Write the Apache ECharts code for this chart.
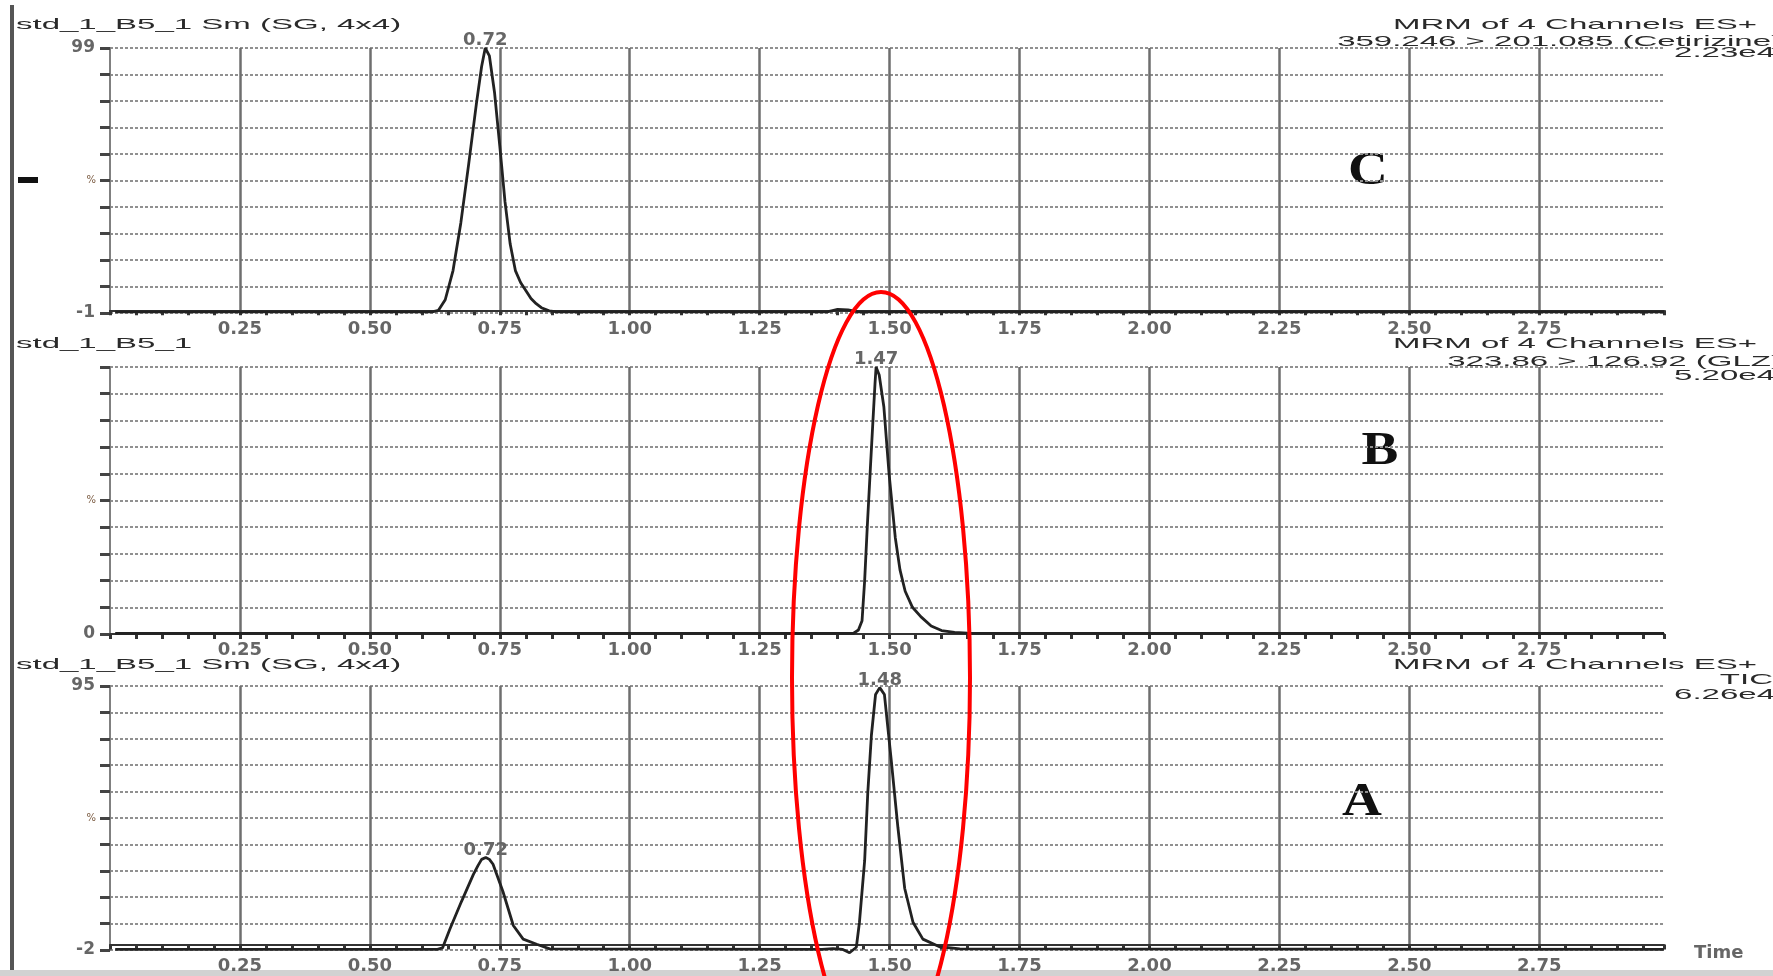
<!DOCTYPE html>
<html>
<head>
<meta charset="utf-8">
<script src="https://cdn.jsdelivr.net/npm/echarts@6/dist/echarts.min.js"></script>
<style>
  html, body { margin: 0; padding: 0; background: #fff; }
  #chart { width: 1773px; height: 976px; }
</style>
</head>
<body>
<div id="chart"></div>
<script>
// retention time (min) and relative intensity (%)
const timeC = [0.01, 0.62, 0.632, 0.645, 0.66, 0.675, 0.69, 0.705, 0.715, 0.722, 0.73, 0.74, 0.75, 0.76, 0.77, 0.78, 0.79, 0.80, 0.81, 0.82, 0.83, 0.845, 0.86, 1.38, 1.40, 1.42, 1.44, 2.99];
const intensityC = [-0.6, -0.6, 0, 4, 15, 33, 55, 78, 92, 99, 96, 82, 62, 41, 25, 15, 10.5, 7.5, 4.5, 2.5, 1, -0.2, -0.6, -0.6, 0.4, 0.2, -0.6, -0.6];

const timeB = [0.01, 1.43, 1.44, 1.447, 1.452, 1.457, 1.463, 1.468, 1.472, 1.474, 1.48, 1.489, 1.499, 1.511, 1.52, 1.53, 1.544, 1.56, 1.58, 1.60, 1.625, 1.65, 1.70, 2.99];
const intensityB = [0.2, 0.2, 1.5, 5, 20, 40, 62, 80, 94, 100, 97, 85, 60, 36, 24, 16, 10, 6.5, 3, 1.3, 0.6, 0.3, 0.2, 0.2];

const timeA = [0.01, 0.63, 0.64, 0.654, 0.676, 0.699, 0.708, 0.715, 0.723, 0.73, 0.737, 0.756, 0.776, 0.795, 0.821, 0.846, 1.37, 1.391, 1.41, 1.423, 1.436, 1.442, 1.452, 1.458, 1.465, 1.473, 1.481, 1.49, 1.503, 1.516, 1.529, 1.545, 1.564, 1.596, 1.635, 2.99];
const intensityA = [-1.8, -1.8, -1.2, 5.7, 15.7, 25.7, 29, 31.3, 32, 31.3, 29.5, 19.5, 7, 2, 0.1, -1.6, -1.8, -1.5, -1.8, -3, -1, 8.2, 30.8, 55.7, 76.9, 91.9, 94.4, 91.9, 68, 43, 20.7, 8.2, 2, -0.8, -1.6, -1.8];

// labelled peak apexes
const peaksC = [0.722];
const peaksB = [1.474];
const peaksA = [0.723, 1.481];

// y axis extent and the values printed on it
const yRangeC = [-1, 99];
const yRangeB = [0, 100];
const yRangeA = [-2, 95];
const yLabelsC = [-1, 99];
const yLabelsB = [0];
const yLabelsA = [-2, 95];

const timeRange = [0, 2.99];
const timeStep = 0.25;

const leftTitles = ['std_1_B5_1 Sm (SG, 4x4)', 'std_1_B5_1', 'std_1_B5_1 Sm (SG, 4x4)'];
const rightTitles = [
  ['MRM of 4 Channels ES+', '359.246 > 201.085 (Cetirizine)', '2.23e4'],
  ['MRM of 4 Channels ES+', '323.86 > 126.92 (GLZ)', '5.20e4'],
  ['MRM of 4 Channels ES+', 'TIC', '6.26e4']
];
const panelLetters = ['C', 'B', 'A'];

const panels = [
  { times: timeC, values: intensityC, peaks: peaksC, range: yRangeC, labels: yLabelsC, top: 48, height: 265 },
  { times: timeB, values: intensityB, peaks: peaksB, range: yRangeB, labels: yLabelsB, top: 367, height: 267 },
  { times: timeA, values: intensityA, peaks: peaksA, range: yRangeA, labels: yLabelsA, top: 686, height: 264 }
];

const labelFont = 'DejaVu Sans';
const labelColor = '#666';

let grid = [], xAxis = [], yAxis = [], series = [];

panels.forEach((p, i) => {
  grid.push({ left: 110, right: 109, top: p.top, height: p.height });

  xAxis.push({
    type: 'value',
    gridIndex: i,
    min: timeRange[0],
    max: timeRange[1],
    interval: timeStep,
    name: i === 2 ? 'Time' : '',
    nameLocation: 'end',
    nameGap: 30,
    nameTextStyle: { fontFamily: labelFont, fontSize: 18, fontWeight: 'bold', color: labelColor, align: 'left', verticalAlign: 'top' },
    axisLine: { lineStyle: { color: '#333', width: 2 } },
    axisTick: { length: 5, lineStyle: { color: '#333', width: 3 } },
    minorTick: { show: true, splitNumber: 5, length: 5, lineStyle: { color: '#333', width: 3 } },
    axisLabel: {
      fontFamily: labelFont, fontSize: 18, fontWeight: 'bold', color: labelColor, margin: 7,
      showMinLabel: false, showMaxLabel: false,
      formatter: v => v.toFixed(2)
    },
    splitLine: { show: true, showMinLine: false, showMaxLine: false, lineStyle: { color: '#6e6e6e', width: 2.5 } }
  });

  // intensity axis: only the end values are printed
  yAxis.push({
    type: 'value',
    gridIndex: i,
    position: 'left',
    min: p.range[0],
    max: p.range[1],
    interval: p.range[1] - p.range[0],
    axisLine: { show: false },
    axisTick: { show: false },
    splitLine: { show: false },
    axisLabel: {
      fontFamily: labelFont, fontSize: 17, fontWeight: 'bold', color: labelColor, margin: 15,
      formatter: v => p.labels.indexOf(v) >= 0 ? String(v) : ''
    }
  });
  // tenths grid of the panel
  yAxis.push({
    type: 'value',
    gridIndex: i,
    position: 'left',
    min: 0,
    max: 10,
    interval: 1,
    axisLine: { show: true, lineStyle: { color: '#808080', width: 2 } },
    axisTick: { show: true, length: 10, lineStyle: { color: '#444', width: 3 } },
    splitLine: { show: true, lineStyle: { color: '#909090', width: 2, type: [3, 2] } },
    axisLabel: {
      fontFamily: labelFont, fontSize: 10, color: '#7a5a40', margin: 14,
      formatter: v => v === 5 ? '%' : ''
    }
  });

  series.push({
    type: 'line',
    xAxisIndex: i,
    yAxisIndex: i * 2,
    data: p.times.map((t, k) => [t, p.values[k]]),
    showSymbol: false,
    symbol: 'none',
    smooth: false,
    clip: false,
    silent: true,
    lineStyle: { color: '#222', width: 2.8 },
    markPoint: {
      symbol: 'circle',
      symbolSize: 1,
      itemStyle: { color: 'rgba(0,0,0,0)' },
      label: { show: true, position: 'top', distance: -2, fontFamily: labelFont, fontSize: 18, fontWeight: 'bold', color: labelColor, formatter: '{c}' },
      data: p.peaks.map(t => ({ coord: [t, p.values[p.times.indexOf(t)]], value: t.toFixed(2) }))
    }
  });
});

function header(text, x, y, align) {
  return {
    type: 'text', x: x, y: y, scaleX: 2.2, silent: true,
    style: { text: text, align: align, verticalAlign: 'middle', font: '15px "Liberation Sans", Arial, sans-serif', fill: '#2a2a2a' }
  };
}

const headerRows = [[25, 42, 53], [344, 362, 376], [665, 680, 695]];
const rightEdge = [[1757, 1782, 1775], [1757, 1782, 1775], [1757, 1773, 1775]];
const letterPos = [[1368, 172], [1380, 452], [1362, 803]];

let graphic = [
  { type: 'rect', shape: { x: 10, y: 5, width: 4, height: 971 }, style: { fill: '#555' }, silent: true },
  { type: 'rect', shape: { x: 18, y: 177, width: 20, height: 6 }, style: { fill: '#111' }, silent: true },
  { type: 'rect', shape: { x: 0, y: 970, width: 1773, height: 6 }, style: { fill: '#d2d2d2' }, silent: true }
];
panels.forEach((p, i) => {
  graphic.push(header(leftTitles[i], 16, headerRows[i][0], 'left'));
  rightTitles[i].forEach((t, k) => graphic.push(header(t, rightEdge[i][k], headerRows[i][k], 'right')));
  graphic.push({
    type: 'text', x: letterPos[i][0], y: letterPos[i][1], scaleX: 1.2, silent: true,
    style: { text: panelLetters[i], align: 'center', verticalAlign: 'middle', font: 'bold 46px "Liberation Serif", "Times New Roman", serif', fill: '#111' }
  });
});
// red ellipse drawn round the 1.47/1.48 peaks
graphic.push({
  type: 'ellipse', silent: true, z: 100,
  shape: { cx: 881, cy: 678, rx: 89, ry: 386 },
  style: { fill: 'none', stroke: '#ff0000', lineWidth: 4 }
});

const chart = echarts.init(document.getElementById('chart'));
chart.setOption({
  animation: false,
  backgroundColor: '#ffffff',
  grid: grid,
  xAxis: xAxis,
  yAxis: yAxis,
  series: series,
  graphic: graphic
});
</script>
</body>
</html>
